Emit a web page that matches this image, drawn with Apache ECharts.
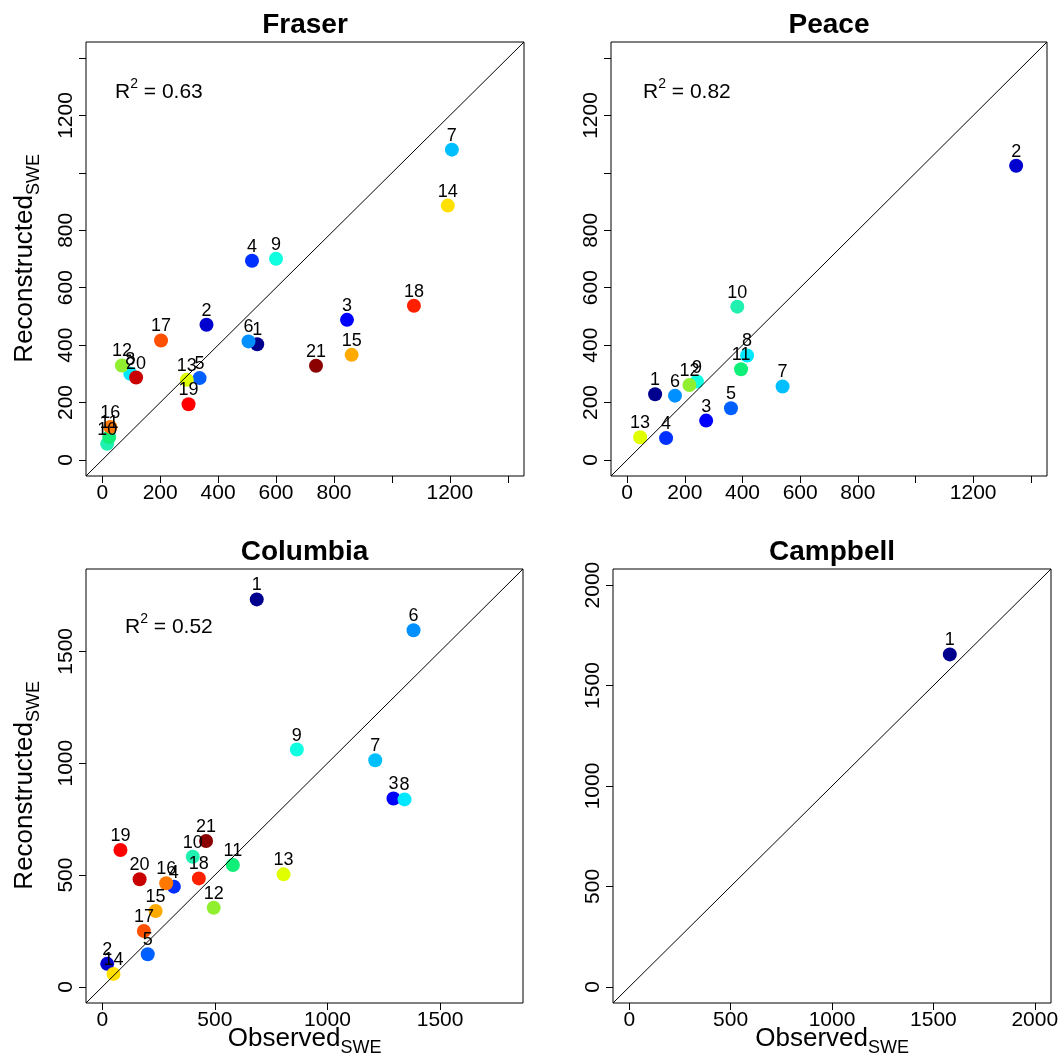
<!DOCTYPE html>
<html>
<head>
<meta charset="utf-8">
<script src="https://cdn.jsdelivr.net/npm/echarts@6/dist/echarts.min.js"></script>
<style>html,body{margin:0;padding:0;background:#fff}#main{width:1059px;height:1058px}</style>
</head>
<body>
<div id="main"></div>
<script>
var FONT = "'Liberation Sans', Arial, Helvetica, sans-serif";

// colour per site number (1..21)
var siteColors = ['#00008F', '#0000CF', '#0000FF', '#0030FF', '#0060FF', '#0090FF', '#00BFFF',
  '#00E8FF', '#10FFE0', '#20F0B0', '#10F078', '#90F030', '#E0FF00', '#FFE000', '#FFAA00',
  '#FF7800', '#FF5000', '#FF2000', '#FF0000', '#C80000', '#8B0000'];

// Fraser
var fraserSite = [1,2,3,4,5,6,7,8,9,10,11,12,13,14,15,16,17,18,19,20,21];
var fraserObs = [535,360,845,517,336,505,1207,97,600,17,24,68,292,1193,861,28,203,1076,298,117,738];
var fraserRec = [403,471,488,694,285,413,1081,300,701,56,80,329,279,886,366,115,416,537,194,287,328];
// Peace
var peaceSite = [1,2,3,4,5,6,7,8,9,10,11,12,13];
var peaceObs = [97,1349,274,135,360,166,539,416,242,382,395,216,45];
var peaceRec = [229,1025,137,76,180,224,256,364,273,534,316,261,79];
// Columbia
var columbiaSite = [1,2,3,4,5,6,7,8,9,10,11,12,13,14,15,16,17,18,19,20,21];
var columbiaObs = [686,22,1293,318,202,1382,1212,1342,864,402,580,495,805,50,237,284,185,429,81,166,461];
var columbiaRec = [1732,103,842,448,146,1594,1013,838,1061,582,545,354,503,58,339,463,250,485,612,481,652];
// Campbell
var campbellSite = [1];
var campbellObs = [1581];
var campbellRec = [1655];

var panelNames = ['Fraser', 'Peace', 'Columbia', 'Campbell'];
var r2Labels = ['0.63', '0.82', '0.52', null];

var fraserLim = [-56, 1456], peaceLim = [-56, 1456], columbiaLim = [-72, 1868], campbellLim = [-80, 2080];
var ticks200 = [0,200,400,600,800,1000,1200,1400];
var labels200 = [0,200,400,600,800,1200];
var ticks500 = [0,500,1000,1500];
var ticks500b = [0,500,1000,1500,2000];

var grids = [
  {left: 86, top: 42, width: 438, height: 434},
  {left: 611, top: 42, width: 436, height: 434},
  {left: 86, top: 569, width: 437, height: 434},
  {left: 613, top: 569, width: 438, height: 434}
];

function axis(gi, lim, ticks, labels, isY) {
  return {
    type: 'value', gridIndex: gi, min: lim[0], max: lim[1],
    position: isY ? 'left' : 'bottom',
    splitLine: {show: false},
    axisLine: {show: false, onZero: false},
    axisTick: {show: true, length: 7, customValues: ticks, lineStyle: {color: '#000', width: 1}},
    axisLabel: {customValues: labels, fontSize: 21, color: '#000', margin: isY ? 9 : 7,
      fontFamily: FONT, rotate: isY ? 90 : 0,
      formatter: function (v) { return String(v); }}
  };
}

function points(gi, site, obs, rec) {
  return {
    type: 'scatter', xAxisIndex: gi, yAxisIndex: gi, symbolSize: 14, z: 2,
    data: site.map(function (s, i) { return [obs[i], rec[i], s]; }),
    itemStyle: {opacity: 1, color: function (p) { return siteColors[p.data[2] - 1]; }},
    label: {show: true, position: 'top', distance: -2, fontSize: 18, color: '#000',
      fontFamily: FONT, formatter: function (p) { return String(p.data[2]); }},
    emphasis: {disabled: true}
  };
}

function diagonal(gi, lim) {
  return {
    type: 'line', xAxisIndex: gi, yAxisIndex: gi, z: 3, silent: true,
    symbol: 'none', data: [[lim[0], lim[0]], [lim[1], lim[1]]],
    lineStyle: {color: '#000', width: 1}
  };
}

var graphics = [];
grids.forEach(function (g, i) {
  graphics.push({type: 'text', x: g.left + g.width / 2, y: g.top - 17,
    style: {text: panelNames[i], font: 'bold 28px ' + FONT, fill: '#000',
      textAlign: 'center', textVerticalAlign: 'middle'}});
});
var r2Pos = [[115, 90], [643, 90], [125, 625]];
r2Pos.forEach(function (p, i) {
  graphics.push({type: 'text', x: p[0], y: p[1],
    style: {text: '{a|R}{s|2}{a| = ' + r2Labels[i] + '}', fill: '#000',
      textVerticalAlign: 'middle',
      rich: {a: {fontSize: 21, lineHeight: 26, verticalAlign: 'bottom', fontFamily: FONT},
             s: {fontSize: 14, lineHeight: 14, verticalAlign: 'top', fontFamily: FONT}}}});
});
// x axis titles (bottom row)
[grids[2], grids[3]].forEach(function (g) {
  var cx = g.left + g.width / 2, split = cx - 77 + 113;
  graphics.push({type: 'text', x: split, y: 1039,
    style: {text: 'Observed', font: '26px ' + FONT, fill: '#000', textAlign: 'right', textVerticalAlign: 'middle'}});
  graphics.push({type: 'text', x: split, y: 1048,
    style: {text: 'SWE', font: '18px ' + FONT, fill: '#000', textAlign: 'left', textVerticalAlign: 'middle'}});
});
// y axis titles (left column)
[grids[0], grids[2]].forEach(function (g) {
  var cy = g.top + g.height / 2;
  graphics.push({type: 'group', x: 25, y: cy, rotation: Math.PI / 2, children: [
    {type: 'text', x: 64, y: 0,
      style: {text: 'Reconstructed', font: '26px ' + FONT, fill: '#000', textAlign: 'right', textVerticalAlign: 'middle'}},
    {type: 'text', x: 64, y: 9,
      style: {text: 'SWE', font: '18px ' + FONT, fill: '#000', textAlign: 'left', textVerticalAlign: 'middle'}}
  ]});
});

var chart = echarts.init(document.getElementById('main'), null, {renderer: 'canvas'});
chart.setOption({
  backgroundColor: '#fff',
  animation: false,
  grid: grids.map(function (g) {
    return Object.assign({show: true, borderColor: '#000', borderWidth: 1, backgroundColor: 'transparent',
      outerBoundsMode: 'none', containLabel: false}, g);
  }),
  xAxis: [
    axis(0, fraserLim, ticks200, labels200, false),
    axis(1, peaceLim, ticks200, labels200, false),
    axis(2, columbiaLim, ticks500, ticks500, false),
    axis(3, campbellLim, ticks500b, ticks500b, false)
  ],
  yAxis: [
    axis(0, fraserLim, ticks200, labels200, true),
    axis(1, peaceLim, ticks200, labels200, true),
    axis(2, columbiaLim, ticks500, ticks500, true),
    axis(3, campbellLim, ticks500b, ticks500b, true)
  ],
  series: [
    points(0, fraserSite, fraserObs, fraserRec), diagonal(0, fraserLim),
    points(1, peaceSite, peaceObs, peaceRec), diagonal(1, peaceLim),
    points(2, columbiaSite, columbiaObs, columbiaRec), diagonal(2, columbiaLim),
    points(3, campbellSite, campbellObs, campbellRec), diagonal(3, campbellLim)
  ],
  graphic: graphics
});
</script>
</body>
</html>
